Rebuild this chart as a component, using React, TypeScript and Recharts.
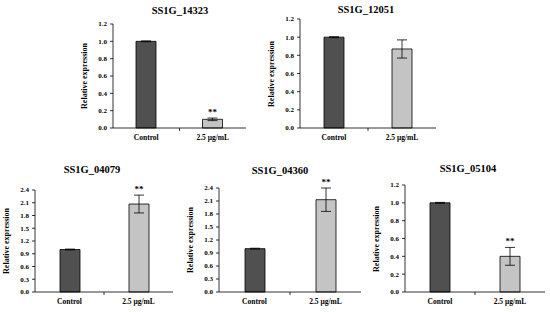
import { BarChart, Bar, XAxis, YAxis, ErrorBar, LabelList, Cell } from 'recharts';

const categories = ['Control', '2.5 μg/mL'];
const genes = ['SS1G_14323', 'SS1G_12051', 'SS1G_04079', 'SS1G_04360', 'SS1G_05104'];
const controlMeans = [1.0, 1.0, 1.0, 1.0, 1.0];
const controlErr = [0.005, 0.005, 0.01, 0.01, 0.005];
const treatMeans = [0.1, 0.87, 2.07, 2.13, 0.4];
const treatErr = [0.015, 0.1, 0.21, 0.27, 0.1];
const significance = ['**', '', '**', '**', '**'];
const ticksLow = [0, 0.2, 0.4, 0.6, 0.8, 1.0, 1.2];
const ticksHigh = [0, 0.3, 0.6, 0.9, 1.2, 1.5, 1.8, 2.1, 2.4];
const yTicks = [ticksLow, ticksLow, ticksHigh, ticksHigh, ticksLow];

// axis origin (x of y-axis, y of top tick), plot size, title centre
const panels = [
  { ax: 113, top: 24, w: 133, h: 104, tx: 180, ty: 11 },
  { ax: 300, top: 19, w: 136, h: 109, tx: 366, ty: 10 },
  { ax: 35, top: 190, w: 138, h: 102, tx: 92, ty: 170 },
  { ax: 219, top: 188, w: 142, h: 104, tx: 280, ty: 171 },
  { ax: 405, top: 185, w: 140, h: 107, tx: 468, ty: 169 },
];

const FONT = '"Liberation Serif", "Times New Roman", serif';
const fills = ['#505050', '#c4c4c4'];
const M_TOP = 16;
const Y_W = 40;

function Panel({ i }: { i: number }) {
  const p = panels[i];
  const data = categories.map((c, k) => ({
    name: c,
    value: k === 0 ? controlMeans[i] : treatMeans[i],
    err: k === 0 ? controlErr[i] : treatErr[i],
    sig: k === 0 ? '' : significance[i],
  }));
  const ticks = yTicks[i];
  const axisY = M_TOP + p.h;

  const renderTick = (props: any) => {
    const { x, payload, index } = props;
    return (
      <g>
        {index === 0 && (
          <line x1={x + p.w / 4} x2={x + p.w / 4} y1={axisY} y2={axisY + 3} stroke="#000" strokeWidth={0.8} />
        )}
        <text x={x} y={axisY + 12} textAnchor="middle" fontSize={7.5} fontWeight="bold" fill="#000" fontFamily={FONT}>
          {payload.value}
        </text>
      </g>
    );
  };

  const renderSig = (props: any) => {
    const { x, y, width, height, index } = props;
    const d = data[index];
    if (!d || !d.sig) return null;
    const errPx = (d.err / d.value) * height;
    return (
      <text x={x + width / 2} y={y - errPx - 3} textAnchor="middle" fontSize={9} fontWeight="bold" fill="#000" fontFamily={FONT}>
        {d.sig}
      </text>
    );
  };

  return (
    <>
      <div
        style={{
          position: 'absolute',
          left: p.tx - 60,
          top: p.ty - 6,
          width: 120,
          textAlign: 'center',
          fontSize: 10.5,
          lineHeight: '12px',
          fontWeight: 'bold',
          fontFamily: FONT,
        }}
      >
        {genes[i]}
      </div>
      <div
        style={{
          position: 'absolute',
          left: p.ax - 28 - 50,
          top: p.top + p.h / 2 - 5,
          width: 100,
          height: 10,
          lineHeight: '10px',
          textAlign: 'center',
          fontSize: 8,
          fontWeight: 'bold',
          fontFamily: FONT,
          transform: 'rotate(-90deg)',
        }}
      >
        Relative expression
      </div>
      <div style={{ position: 'absolute', left: p.ax - Y_W, top: p.top - M_TOP }}>
        <BarChart
          width={p.w + Y_W + 6}
          height={p.h + M_TOP + 22}
          data={data}
          margin={{ top: M_TOP, right: 6, left: 0, bottom: 0 }}
        >
          <XAxis
            dataKey="name"
            height={22}
            axisLine={{ stroke: '#000', strokeWidth: 0.8 }}
            tickLine={false}
            tick={renderTick}
            interval={0}
          />
          <YAxis
            width={Y_W}
            domain={[0, ticks[ticks.length - 1]]}
            ticks={ticks}
            interval={0}
            tickFormatter={(v: number) => v.toFixed(1)}
            axisLine={{ stroke: '#000', strokeWidth: 0.8 }}
            tickLine={{ stroke: '#000', strokeWidth: 0.8 }}
            tickSize={3}
            tickMargin={3}
            tick={{ fontSize: 7, fontWeight: 'bold', fill: '#000', fontFamily: FONT }}
          />
          <Bar dataKey="value" barSize={20} stroke="#000" strokeWidth={0.8} isAnimationActive={false}>
            {data.map((_, k) => (
              <Cell key={k} fill={fills[k]} />
            ))}
            <ErrorBar dataKey="err" width={5} stroke="#000" strokeWidth={0.8} />
            <LabelList dataKey="sig" content={renderSig} />
          </Bar>
        </BarChart>
      </div>
    </>
  );
}

export default function App() {
  return (
    <div style={{ position: 'absolute', left: 0, top: 0, width: 550, height: 312, background: '#fff', fontFamily: FONT }}>
      {genes.map((_, i) => (
        <Panel key={i} i={i} />
      ))}
    </div>
  );
}
